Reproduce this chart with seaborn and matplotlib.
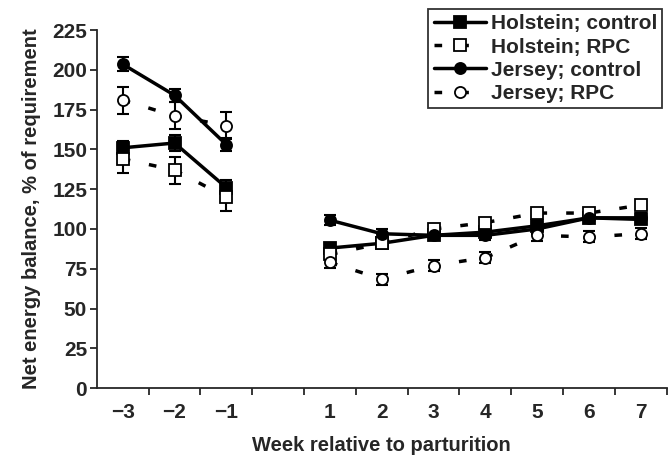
import numpy as np
import pandas as pd
import seaborn as sns
import matplotlib.pyplot as plt

sns.set_style("ticks")
plt.rcParams['font.family'] = ['Liberation Sans', 'DejaVu Sans']
plt.rcParams['font.weight'] = 'bold'

# Weeks relative to parturition (no week 0)
weeks = [-3, -2, -1, 1, 2, 3, 4, 5, 6, 7]

# Net energy balance, % of requirement
holstein_control = [151, 154, 126, 88, 91, 96, 98, 102, 107, 106]
holstein_rpc = [144, 137, 120, 84, 91, 100, 104, 110, 110, 115]
jersey_control = [203.5, 184, 153, 105.5, 97, 96, 96, 100, 107, 107]
jersey_rpc = [181, 171, 165, 79, 68.5, 77, 82, 96, 95, 97]

# Standard errors
holstein_control_se = [4, 5, 4.5, 3, 3, 3, 3, 3, 3, 3]
holstein_rpc_se = [9, 8.5, 8.5, 3, 3, 3, 3, 3, 3, 3]
jersey_control_se = [4.5, 4, 4, 3, 3, 3, 3, 3, 3, 3]
jersey_rpc_se = [8.5, 8.5, 8.5, 3.5, 3.5, 3.5, 3.5, 3.5, 3.5, 3.5]

series = [
    ("Holstein; control", holstein_control, holstein_control_se, "s", "black", "-"),
    ("Holstein; RPC", holstein_rpc, holstein_rpc_se, "s", "white", "--"),
    ("Jersey; control", jersey_control, jersey_control_se, "o", "black", "-"),
    ("Jersey; RPC", jersey_rpc, jersey_rpc_se, "o", "white", "--"),
]

fig = plt.figure(figsize=(6.68, 4.55), dpi=100)
ax = fig.add_axes([0.145, 0.147, 0.853, 0.787])

handles = []
for name, vals, se, mk, fc, ls in series:
    df = pd.DataFrame({"week": weeks, "neb": vals, "se": se})
    df["period"] = np.where(df["week"] < 0, "pre", "post")
    ax.errorbar(df["week"], df["neb"], yerr=df["se"], fmt="none",
                ecolor="black", elinewidth=1.5, capsize=4, capthick=1.5, zorder=2)
    for period, sub in df.groupby("period"):
        sns.lineplot(data=sub, x="week", y="neb", ax=ax, color="black",
                     linewidth=2.5, marker=mk, markersize=8,
                     markerfacecolor=fc, markeredgecolor="black",
                     markeredgewidth=1.3, zorder=3)
    if ls == "--":
        for l in ax.lines[-2:]:
            l.set_dashes((2.2, 5.5))
    handles.append(ax.lines[-1])

ax.set_xlim(-3.5, 7.5)
ax.set_ylim(0, 225)
ax.set_yticks(np.arange(0, 226, 25))
ax.set_xticks(weeks)
ax.set_xticklabels(["\u22123", "\u22122", "\u22121", "1", "2", "3", "4", "5", "6", "7"])
ax.set_xticks(np.arange(-2.5, 7.6, 1), minor=True)
ax.tick_params(axis="x", which="major", length=0, pad=11, labelsize=15)
ax.tick_params(axis="x", which="minor", length=5, width=1.3, direction="out")
ax.tick_params(axis="y", length=5, width=1.3, labelsize=15, pad=2)
for lab in ax.get_xticklabels() + ax.get_yticklabels():
    lab.set_fontweight("bold")
sns.despine(ax=ax)
ax.spines["left"].set_linewidth(1.3)
ax.spines["bottom"].set_linewidth(1.3)

ax.set_xlabel("Week relative to parturition", fontsize=14.5, fontweight="bold", labelpad=10)
ax.set_ylabel("Net energy balance, % of requirement", fontsize=14.5, fontweight="bold", labelpad=8)

leg = ax.legend(handles, [s[0] for s in series], loc="upper right",
                bbox_to_anchor=(1.0, 1.07), frameon=True, fancybox=False,
                fontsize=15, handlelength=2.5, handletextpad=0.25,
                borderpad=0.25, labelspacing=0.2, borderaxespad=0.2)
leg.get_frame().set_edgecolor("black")
leg.get_frame().set_linewidth(1.3)
for t in leg.get_texts():
    t.set_fontweight("bold")

fig.savefig("out.png", dpi=100)
